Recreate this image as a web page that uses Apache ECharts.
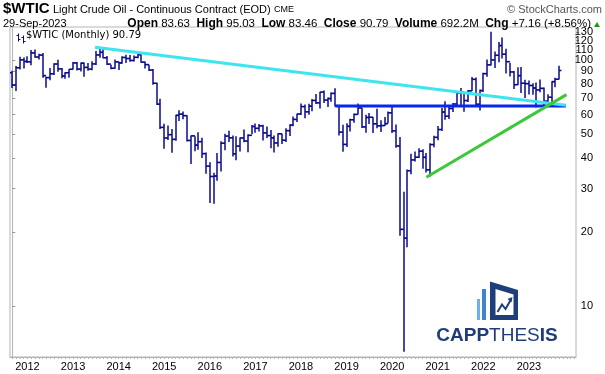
<!DOCTYPE html>
<html><head><meta charset="utf-8">
<script src="https://cdn.jsdelivr.net/npm/echarts@6/dist/echarts.min.js"></script>
<style>html,body{margin:0;padding:0;background:#fff}#c{width:605px;height:374px}</style>
</head><body><div id="c"></div>
<script>
// Monthly bars, Sep 2011 .. Sep 2023 (index 0 = Sep 2011)
const firstOpen = 88.81;
const closes = [79.20,93.19,100.36,98.83,
98.48,107.07,103.02,104.87,86.53,84.96,88.06,96.47,92.19,86.24,88.91,91.82,
97.49,92.05,97.23,93.46,91.97,96.56,105.03,107.65,102.33,96.38,92.72,98.42,
97.49,102.59,101.58,99.74,102.71,105.37,98.17,95.96,91.16,80.54,66.15,53.27,
48.24,49.76,47.60,59.63,60.30,59.47,47.12,49.20,45.09,46.59,41.65,37.04,
33.62,33.75,38.34,45.92,49.10,48.33,41.60,44.70,48.24,46.86,49.44,53.72,
52.81,54.01,50.60,49.33,48.32,46.04,50.17,47.23,51.67,54.38,57.40,60.42,
64.73,61.64,64.94,68.57,67.04,74.15,68.76,69.80,73.25,65.31,50.93,45.41,
53.79,57.22,60.14,63.91,53.50,58.47,58.58,55.10,54.07,54.18,55.17,61.06,
51.56,44.76,20.48,18.84,35.49,39.27,40.27,42.61,40.22,35.79,45.34,48.52,
52.20,61.50,59.16,63.58,66.32,73.47,73.95,68.50,75.03,83.57,66.18,75.21,
88.15,95.72,100.28,104.69,114.67,105.76,98.62,89.55,79.49,86.53,80.55,80.26,
78.87,77.05,75.67,76.78,68.09,70.64,81.80,83.63,90.79];
const highs = [90.52,94.65,103.37,102.44,
103.74,109.95,110.55,106.20,106.86,85.69,92.94,97.28,100.42,92.87,89.27,91.91,
98.24,98.24,97.80,97.86,97.32,99.04,108.93,112.24,110.68,104.09,95.87,100.75,
98.58,103.85,105.22,104.99,104.61,107.73,105.78,98.70,95.73,92.00,80.92,69.74,
55.11,54.24,52.48,59.90,62.58,61.85,59.69,49.34,49.00,50.92,48.37,42.06,
38.39,34.82,41.90,46.78,50.21,51.67,49.36,49.05,48.40,52.22,49.95,54.51,
55.24,54.94,54.61,53.76,52.00,49.41,50.43,50.20,52.86,54.82,59.05,60.51,
66.66,66.00,66.55,69.56,72.90,74.46,75.27,70.42,73.94,76.90,65.10,54.55,
55.38,57.81,60.73,66.60,63.83,59.93,60.94,58.76,63.38,56.92,58.73,61.88,
65.65,54.67,48.66,29.13,35.90,41.63,42.52,43.78,43.43,41.93,45.88,49.28,
53.93,63.81,67.98,64.42,67.00,74.00,76.98,73.58,75.60,85.41,84.97,76.00,
88.84,100.54,130.50,108.38,118.69,123.68,111.45,97.66,90.39,93.64,93.74,83.34,
82.66,80.62,81.04,83.53,77.40,72.72,82.03,84.89,95.03];
const lows = [77.11,74.95,91.61,92.52,
97.30,95.44,102.39,100.68,84.91,77.28,82.93,87.04,89.70,84.40,84.05,84.83,
91.61,90.70,89.84,85.61,90.61,90.98,95.53,102.22,101.80,95.69,91.77,92.40,
91.24,96.65,97.37,98.59,98.89,101.73,97.58,92.50,90.43,79.44,65.69,52.44,
43.58,47.36,42.03,47.05,56.51,57.53,46.68,37.75,42.58,43.22,40.02,34.53,
26.19,26.05,32.29,35.24,43.03,46.46,40.57,39.19,42.52,46.33,42.20,49.95,
50.71,51.22,47.10,48.18,43.76,42.05,44.40,45.58,46.48,49.10,53.84,56.09,
59.81,58.07,59.95,62.01,66.25,63.59,66.92,64.43,67.70,64.86,49.41,42.36,
44.35,51.23,55.59,60.08,53.00,50.60,54.94,50.52,52.81,50.99,54.09,55.38,
50.57,44.00,19.27,6.5,17.31,34.36,38.72,40.02,36.13,34.92,33.64,44.18,
47.18,51.53,57.25,57.63,61.56,64.70,65.01,61.74,67.58,74.96,64.43,62.43,
74.27,85.70,95.04,92.93,98.20,101.53,88.28,85.73,76.25,79.32,73.60,70.08,
72.46,72.25,64.12,74.06,63.57,66.85,67.81,77.59,83.46];
const opens = [firstOpen].concat(closes.slice(0, -1));

// Trend lines: [month index, price]
const cyanLine  = [[21.8, 113.0], [145.7, 65.5]];
const blueLine  = [[85.0, 65.1], [145.7, 65.1]];
const greenLine = [[109.0, 33.4], [145.9, 72.4]];

// Axis labels
const yearLabels = ['2012','2013','2014','2015','2016','2017','2018','2019','2020','2021','2022','2023'];
const yearIndex  = [4,16,28,40,52,64,76,88,100,112,124,136];
const priceTicks = [10,20,30,40,50,60,70,80,90,100];
const priceTicksTop = [110, 120, 130];
const priceMin = 6.19, priceMax = 136.5;

const L = Math.log10;
const barData = closes.map((c, i) => [i, L(opens[i]), L(highs[i]), L(lows[i]), L(c)]);
const monthTicks = [];
for (let i = 0; i <= 148; i++) monthTicks.push(i);
const toLine = arr => arr.map(p => [p[0], L(p[1])]);

const chart = echarts.init(document.getElementById('c'), null, {renderer: 'canvas'});
const barColor = '#0a0a8e';
const F = 'Arial, "Liberation Sans", sans-serif';

function yAxisFor(ticks, showLine) {
  return {
    type: 'value', position: 'right', offset: 0, min: L(priceMin), max: L(priceMax),
    axisLine: {show: showLine, lineStyle: {color: '#b4b4b4'}},
    axisTick: {show: true, customValues: ticks.map(L), length: 3, lineStyle: {color: '#999'}},
    axisLabel: {customValues: ticks.map(L), formatter: v => String(Math.round(Math.pow(10, v))),
      color: '#000', fontSize: 11, fontFamily: F, align: 'right', margin: 17},
    splitLine: {show: false}
  };
}
// one label per extra axis, so the crowded top labels are all kept
const yAxes = [yAxisFor(priceTicks, true)].concat(priceTicksTop.map(t => yAxisFor([t], false)));

chart.setOption({
  animation: false,
  backgroundColor: '#fff',
  grid: {left: 10, right: 29, top: 27, bottom: 17, show: true, borderColor: '#b4b4b4', borderWidth: 1},
  xAxis: {
    type: 'value', min: -0.6, max: 148.4,
    axisLine: {show: true, lineStyle: {color: '#b4b4b4'}},
    axisTick: {show: true, customValues: monthTicks, length: 2, lineStyle: {color: '#b4b4b4'}},
    axisLabel: {customValues: yearIndex, formatter: v => yearLabels[yearIndex.indexOf(Math.round(v))] || '',
      color: '#000', fontSize: 11, fontFamily: F, margin: 4},
    splitLine: {show: false}
  },
  yAxis: yAxes,
  series: [
    {type: 'custom', data: barData, clip: true, z: 2,
     encode: {x: 0, y: [1, 2, 3, 4]},
     renderItem: function (params, api) {
       const i = api.value(0);
       const o = api.coord([i, api.value(1)]);
       const h = api.coord([i, api.value(2)]);
       const l = api.coord([i, api.value(3)]);
       const c = api.coord([i, api.value(4)]);
       const x = Math.round(h[0]);
       const st = {stroke: barColor, lineWidth: 1.5};
       return {type: 'group', children: [
         {type: 'line', shape: {x1: x, y1: h[1], x2: x, y2: l[1]}, style: st},
         {type: 'line', shape: {x1: x - 2.5, y1: o[1], x2: x, y2: o[1]}, style: st},
         {type: 'line', shape: {x1: x, y1: c[1], x2: x + 2.5, y2: c[1]}, style: st}
       ]};
     }},
    {type: 'line', data: toLine(blueLine), symbol: 'none', z: 3, lineStyle: {color: '#0826f2', width: 3}},
    {type: 'line', data: toLine(cyanLine), symbol: 'none', z: 4, lineStyle: {color: '#3ee4ee', width: 3}},
    {type: 'line', data: toLine(greenLine), symbol: 'none', z: 5, lineStyle: {color: '#3cc83a', width: 3}}
  ],
  graphic: [
    {type: 'text', left: 3, top: 1, style: {text: '$WTIC', font: 'bold 15px ' + F, fill: '#000'}},
    {type: 'text', left: 53, top: 4, style: {text: 'Light Crude Oil - Continuous Contract (EOD)', font: '11px ' + F, fill: '#000'}},
    {type: 'text', left: 274, top: 5, style: {text: 'CME', font: '9px ' + F, fill: '#000'}},
    {type: 'text', right: 3, top: 4, style: {text: '© StockCharts.com', font: '11px ' + F, fill: '#555'}},
    {type: 'text', left: 3, top: 18, style: {text: '29-Sep-2023', font: '11px ' + F, fill: '#000'}},
    {type: 'text', right: 14, top: 18, style: {
      text: '{b|Open} 83.63  {b|High} 95.03  {b|Low} 83.46  {b|Close} 90.79  {b|Volume} 692.2M  {b|Chg} +7.16 (+8.56%)',
      font: '11.5px ' + F, fill: '#000', rich: {b: {fontWeight: 'bold', fontSize: 12, fontFamily: F}}}},
    {type: 'polygon', shape: {points: [[594, 27], [597, 22], [600, 27]]}, style: {fill: '#1a9a1a'}},
    // legend
    {type: 'text', left: 26, top: 30, style: {text: '$WTIC (Monthly) 90.79', font: '10px "DejaVu Sans", sans-serif', fill: '#000'}},
    {type: 'group', left: 14, top: 31, children: [
      {type: 'line', shape: {x1: 2, y1: 0, x2: 2, y2: 8}, style: {stroke: '#0a0a8e', lineWidth: 1}},
      {type: 'line', shape: {x1: 0, y1: 2, x2: 2, y2: 2}, style: {stroke: '#0a0a8e', lineWidth: 1}},
      {type: 'line', shape: {x1: 2, y1: 6, x2: 4, y2: 6}, style: {stroke: '#0a0a8e', lineWidth: 1}},
      {type: 'line', shape: {x1: 7, y1: 2, x2: 7, y2: 10}, style: {stroke: '#0a0a8e', lineWidth: 1}},
      {type: 'line', shape: {x1: 5, y1: 4, x2: 7, y2: 4}, style: {stroke: '#0a0a8e', lineWidth: 1}},
      {type: 'line', shape: {x1: 7, y1: 8, x2: 9, y2: 8}, style: {stroke: '#0a0a8e', lineWidth: 1}}
    ]},
    // watermark logo
    {type: 'rect', z: 1, shape: {x: 477, y: 299, width: 3, height: 21}, style: {fill: '#6cb2e6'}},
    {type: 'rect', z: 1, shape: {x: 482, y: 289, width: 4, height: 31}, style: {fill: '#3d86cc'}},
    {type: 'polygon', z: 1, shape: {points: [[490, 281.5], [518, 290], [518, 320], [490, 320]]}, style: {fill: '#1f3d78'}},
    {type: 'polygon', z: 1, shape: {points: [[495.5, 289], [513.5, 294.5], [513.5, 315], [495.5, 315]]}, style: {fill: '#fff'}},
    {type: 'polyline', z: 1, shape: {points: [[497.5, 312], [502, 304.5], [505.5, 309], [511, 299.5]]}, style: {stroke: '#1f3d78', lineWidth: 2, fill: null}},
    {type: 'polygon', z: 1, shape: {points: [[512.5, 297], [507.5, 299], [511.5, 302.5]]}, style: {fill: '#1f3d78'}},
    {type: 'text', z: 1, x: 497, y: 345, style: {
      text: '{b|CAPP}{n|THES}{b|IS}', textAlign: 'center', textVerticalAlign: 'bottom',
      rich: {b: {font: 'bold 19px ' + F, fill: '#1f3d78'}, n: {font: '19px ' + F, fill: '#1f3d78'}}}}
  ]
});
</script></body></html>
